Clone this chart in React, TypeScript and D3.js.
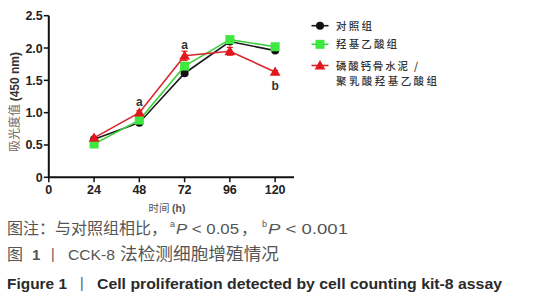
import React from "react";
import * as d3 from "d3";

const times = [24, 48, 72, 96, 120];
const xTicks = [0, 24, 48, 72, 96, 120];
const yTicks = [0, 0.5, 1.0, 1.5, 2.0, 2.5];
const yTickLabels = ["0", "0.5", "1.0", "1.5", "2.0", "2.5"];

const controlVals = [0.59, 0.845, 1.61, 2.1, 1.96];
const controlErr = [0.02, 0.02, 0.03, 0.03, 0.02];
const hydroxyVals = [0.515, 0.885, 1.72, 2.13, 2.02];
const hydroxyErr = [0.02, 0.03, 0.04, 0.03, 0.02];
const cementVals = [0.61, 1.0, 1.88, 1.95, 1.63];
const cementErr = [0.02, 0.03, 0.07, 0.06, 0.02];

const seriesNames = [["对照组"], ["羟基乙酸组"], ["磷酸钙骨水泥 /", "聚乳酸羟基乙酸组"]];
const annotations = [
  { t: 48, v: 1.0, label: "a" },
  { t: 72, v: 1.88, label: "a" },
  { t: 120, v: 1.63, label: "b" },
];

const W = 553;
const H = 300;

export default function App() {
  const x = d3.scaleLinear().domain([0, 130]).range([48.8, 294]);
  const y = d3.scaleLinear().domain([0, 2.5]).range([177.3, 15.7]);
  const line = d3
    .line<number>()
    .x((_, i) => x(times[i]))
    .y((d) => y(d));

  const series = [
    { vals: controlVals, err: controlErr, color: "#111111", lineColor: "#1a1a1a", shape: "circle" },
    { vals: hydroxyVals, err: hydroxyErr, color: "#3ee83e", lineColor: "#3fcf3f", shape: "square" },
    { vals: cementVals, err: cementErr, color: "#e3161c", lineColor: "#d8262a", shape: "triangle" },
  ];

  const marker = (shape: string, cx: number, cy: number, color: string, key: string) => {
    if (shape === "circle") return <circle key={key} cx={cx} cy={cy} r={4} fill={color} />;
    if (shape === "square")
      return <rect key={key} x={cx - 4.5} y={cy - 4.5} width={9} height={9} fill={color} />;
    const p = d3.symbol(d3.symbolTriangle, 50)();
    return <path key={key} d={p || ""} transform={`translate(${cx},${cy + 0.8})`} fill={color} />;
  };

  const cjk = "'Noto Sans CJK SC', 'Noto Sans', sans-serif";
  const latin = "'Liberation Sans', Arial, sans-serif";

  const legendY = [25.7, 44.3, 65.5];
  const legendWidths = [[36], [61], [82, 101]];

  return (
    <svg
      width={W}
      height={H}
      style={{ position: "absolute", left: 0, top: 0, background: "#fff" }}
      viewBox={`0 0 ${W} ${H}`}
    >
      {/* axes */}
      <line x1={x(0)} x2={x(0)} y1={y(2.5)} y2={y(0)} stroke="#111" strokeWidth={2} />
      <line x1={x(0) - 1} x2={x(130)} y1={y(0)} y2={y(0)} stroke="#111" strokeWidth={2} />
      {yTicks.map((t, i) => (
        <g key={"yt" + i}>
          <line x1={x(0) - 5} x2={x(0)} y1={y(t)} y2={y(t)} stroke="#111" strokeWidth={1.5} />
          <text
            x={x(0) - 6}
            y={y(t) + 4.5}
            textAnchor="end"
            fontFamily={latin}
            fontWeight="bold"
            fontSize={12.5}
            fill="#222"
          >
            {yTickLabels[i]}
          </text>
        </g>
      ))}
      {xTicks.map((t, i) => (
        <g key={"xt" + i}>
          <line x1={x(t)} x2={x(t)} y1={y(0)} y2={y(0) + 5} stroke="#111" strokeWidth={1.5} />
          <text
            x={x(t)}
            y={y(0) + 17}
            textAnchor="middle"
            fontFamily={latin}
            fontWeight="bold"
            fontSize={12.5}
            fill="#222"
          >
            {t}
          </text>
        </g>
      ))}
      <text x={167} y={212} textAnchor="middle" fontFamily={cjk} fontSize={10.5} fill="#555">
        时间 <tspan fontFamily={latin} fontWeight="bold">(h)</tspan>
      </text>
      <text
        transform={`translate(19,102) rotate(-90)`}
        textAnchor="middle"
        fontFamily={cjk}
        fontSize={12}
        fill="#7a6a5c"
      >
        吸光度值 <tspan fontFamily={latin} fontWeight="bold" fill="#333">(450 nm)</tspan>
      </text>

      {/* series */}
      {series.map((s, si) => (
        <g key={"s" + si}>
          <path d={line(s.vals) || ""} fill="none" stroke={s.lineColor} strokeWidth={1.6} />
          {s.vals.map((v, i) => (
            <g key={"e" + i}>
              <line x1={x(times[i])} x2={x(times[i])} y1={y(v - s.err[i])} y2={y(v + s.err[i])} stroke={s.color} strokeWidth={1.2} />
              <line x1={x(times[i]) - 3} x2={x(times[i]) + 3} y1={y(v - s.err[i])} y2={y(v - s.err[i])} stroke={s.color} strokeWidth={1.2} />
              <line x1={x(times[i]) - 3} x2={x(times[i]) + 3} y1={y(v + s.err[i])} y2={y(v + s.err[i])} stroke={s.color} strokeWidth={1.2} />
            </g>
          ))}
          {s.vals.map((v, i) => marker(s.shape, x(times[i]), y(v), s.color, "m" + i))}
        </g>
      ))}

      {/* annotations */}
      {annotations.map((a, i) => (
        <text
          key={"an" + i}
          x={x(a.t)}
          y={a.label === "b" ? y(a.v) + 18 : y(a.v) - 7}
          textAnchor="middle"
          fontFamily={latin}
          fontWeight="bold"
          fontSize={12}
          fill="#333"
        >
          {a.label}
        </text>
      ))}

      {/* legend */}
      {series.map((s, i) => (
        <g key={"lg" + i}>
          <line x1={311.5} x2={328.5} y1={legendY[i]} y2={legendY[i]} stroke={s.lineColor} strokeWidth={1.6} />
          {marker(s.shape, 320, legendY[i], s.color, "lm")}
          {seriesNames[i].map((ln, j) => (
            <text
              key={j}
              x={336}
              y={legendY[i] + 4 + j * 15.5}
              fontFamily={cjk}
              fontSize={10.5}
              fontWeight={500}
              fill="#333"
              textLength={legendWidths[i][j]}
              lengthAdjust="spacing"
            >
              {ln}
            </text>
          ))}
        </g>
      ))}

      {/* captions */}
      <g fill="#555">
        <text x={7} y={234} fontFamily={cjk} fontSize={16} textLength={160} lengthAdjust="spacingAndGlyphs">
          图注：与对照组相比，
        </text>
        <text x={170} y={227} fontFamily={latin} fontSize={9}>a</text>
        <text x={176} y={234} fontFamily={latin} fontSize={15} textLength={63} lengthAdjust="spacingAndGlyphs">
          <tspan fontStyle="italic">P</tspan> &lt; 0.05
        </text>
        <text x={241} y={234} fontFamily={cjk} fontSize={16}>，</text>
        <text x={262} y={227} fontFamily={latin} fontSize={9}>b</text>
        <text x={268} y={234} fontFamily={latin} fontSize={15} textLength={80} lengthAdjust="spacingAndGlyphs">
          <tspan fontStyle="italic">P</tspan> &lt; 0.001
        </text>

        <text x={7} y={260} fontFamily={cjk} fontSize={16}>图</text>
        <text x={32} y={260} fontFamily={latin} fontWeight="bold" fontSize={15}>1</text>
        <text x={51} y={259} fontFamily={latin} fontSize={14}>|</text>
        <text x={68} y={260} fontFamily={latin} fontSize={15} textLength={47} lengthAdjust="spacingAndGlyphs">CCK-8</text>
        <text x={120} y={260} fontFamily={cjk} fontSize={16.5} textLength={159} lengthAdjust="spacingAndGlyphs">
          法检测细胞增殖情况
        </text>
      </g>
      <g fill="#2a2a2a" fontFamily={latin} fontWeight="bold">
        <text x={7} y={289} fontSize={15.5} textLength={60} lengthAdjust="spacingAndGlyphs">Figure 1</text>
        <text x={80} y={288} fontSize={14} fontWeight="normal" fill="#555">|</text>
        <text x={97} y={289} fontSize={15.5} textLength={405} lengthAdjust="spacingAndGlyphs">
          Cell proliferation detected by cell counting kit-8 assay
        </text>
      </g>
    </svg>
  );
}
